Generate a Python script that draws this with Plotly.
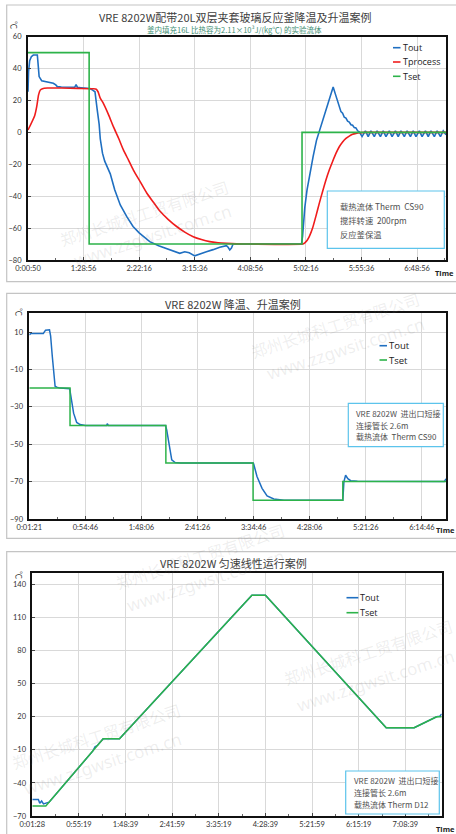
import plotly.graph_objects as go

W, H = 456, 834

# ---------------- DATA ----------------
# x positions are in "tick units" (0 = first time label, 1 = second label ...)
# Panel 1: VRE 8202W + 20L jacketed glass reactor
p1_ticktext = ["0:00:50", "1:28:56", "2:22:16", "3:15:36", "4:08:56", "5:02:16", "5:55:36", "6:48:56"]
p1_yticks = [-80, -60, -40, -20, 0, 20, 40, 60]
p1_tout_x = [0, 0.01, 0.03, 0.06, 0.095, 0.168, 0.186, 0.20, 0.246, 0.35, 0.455, 0.50, 0.527, 0.60, 0.70,
             0.84, 0.865, 0.89, 0.95, 1.05, 1.115, 1.163, 1.205, 1.246, 1.28, 1.30, 1.34, 1.38, 1.48, 1.56,
             1.66, 1.78, 1.89, 2.0, 2.19, 2.35, 2.49, 2.62, 2.73, 2.82, 2.9, 3.0, 3.1, 3.21, 3.33, 3.45,
             3.57, 3.60, 3.63, 3.66, 3.69, 3.75, 4.92, 4.94, 4.98, 5.02, 5.07, 5.13, 5.19, 5.25, 5.35,
             5.45, 5.49, 5.53, 5.57, 5.60, 5.63, 5.66, 5.69, 5.72, 5.75, 5.78, 5.81, 5.84, 5.87, 5.90,
             5.93, 5.96,
             6.01, 6.07, 6.12, 6.17, 6.23, 6.28, 6.34, 6.39, 6.44, 6.50, 6.55, 6.61, 6.66, 6.71, 6.77,
             6.82, 6.88, 6.93, 6.98, 7.04, 7.09, 7.15, 7.20, 7.25, 7.31, 7.36, 7.42, 7.47, 7.52]
p1_tout = [25.5, 38, 45, 47.5, 48.5, 48.5, 41, 35, 32.4, 31.5, 30.8, 29.8, 28.7, 28.5, 28.4,
           28.3, 30, 28.2, 28, 27.8, 27.5, 26.5, 25.5, 14, 5, -4, -13, -18, -26, -36,
           -45.5, -53, -59, -63, -68.5, -71, -72.7, -74.5, -75.8, -74.8, -75.5, -77.4, -76, -74.8, -73.5, -72,
           -71, -72, -73.7, -72.5, -70, -70, -70, -65, -47, -36, -26, -15, -5, 2, 13,
           24, 28.5, 24, 20, 17, 13, 12, 9.5, 9, 7, 6.5, 4.8, 4.5, 3, 2.8,
           1, 0.3,
           -2.6, 1.0, -2.6, 1.0, -2.6, 1.0, -2.6, 1.0, -2.6, 1.0, -2.6, 1.0, -2.6, 1.0, -2.6,
           1.0, -2.6, 1.0, -2.6, 1.0, -2.6, 1.0, -2.6, 1.0, -2.6, 1.0, -2.6, 1.0, -1.5]
p1_tproc_x = [0, 0.12, 0.156, 0.19, 0.22, 0.26, 0.35, 0.6, 0.9, 1.18, 1.22, 1.26, 1.30, 1.356, 1.45,
              1.536, 1.63, 1.716, 1.81, 1.896, 2.02, 2.136, 2.26, 2.376, 2.52, 2.674, 2.82, 2.973,
              3.12, 3.27, 3.42, 3.57, 3.75, 4.0, 4.94, 4.98, 5.02, 5.06, 5.12, 5.18, 5.24, 5.30, 5.36,
              5.42, 5.48, 5.54, 5.60, 5.66, 5.72, 5.78, 5.84, 5.90, 5.96, 6.05, 7.52]
p1_tproc = [1.5, 10.5, 16, 23.5, 26.5, 27.4, 27.8, 27.8, 27.6, 27.4, 27.2, 25.5, 21.5, 18.2, 11,
            3.6, -3.7, -11, -17.5, -23.6, -31, -38, -44, -49.5, -54.5, -59, -62.5, -65.4,
            -67.2, -68.5, -69.2, -69.6, -69.9, -70, -70, -69.2, -67.8, -65.4, -60, -52.5, -44.5, -37, -29.8,
            -23.6, -18.2, -13.2, -9, -6, -3.8, -2.3, -1.2, -0.6, -0.2, 0, 0]
p1_tset_x = [0, 1.10, 1.10, 4.93, 4.93, 7.52]
p1_tset = [50, 50, -70, -70, 0, 0]

# Panel 2: cooling / heating steps
p2_ticktext = ["0:01:21", "0:54:46", "1:48:06", "2:41:26", "3:34:46", "4:28:06", "5:21:26", "6:14:46"]
p2_yticks = [-90, -70, -50, -30, -10, 10]
p2_tout_x = [0, 0.03, 0.25, 0.29, 0.36, 0.38, 0.41, 0.44, 0.46, 0.49, 0.55, 0.72, 0.74, 0.79, 0.845,
             0.905, 1.0, 1.38, 1.39, 1.41, 2.43, 2.45, 2.50, 2.54, 2.6, 2.7, 3.99, 4.0, 4.06, 4.15,
             4.24, 4.36, 4.54, 5.59, 5.61, 5.64, 5.68, 5.73, 5.85, 7.40, 7.43]
p2_tout = [8.5, 9.2, 9.2, 11, 11.2, 8, -3, -15, -19, -19.5, -20, -20.3, -24.5, -33.4, -38.4,
           -39.5, -40, -40, -39, -40, -40, -42.3, -51.3, -58.4, -59.8, -60, -60, -60.5, -67.3, -73.6,
           -77.7, -79.3, -80, -80, -70, -66.6, -68.4, -69.5, -69.8, -70, -68.5]
p2_tset_x = [0, 0.726, 0.726, 2.435, 2.435, 3.99, 3.99, 5.59, 5.59, 7.43]
p2_tset = [-20, -20, -40, -40, -60, -60, -80, -80, -70, -70]

# Panel 3: constant-rate linear run
p3_ticktext = ["0:01:28", "0:55:19", "1:48:39", "2:41:59", "3:35:19", "4:28:39", "5:21:59", "6:15:19", "7:08:39"]
p3_yticks = [-70, -40, -10, 20, 50, 80, 110, 140]
p3_tout_x = [0, 0.13, 0.16, 0.20, 0.24, 0.29, 0.36, 1.30, 1.346, 1.40, 1.52, 1.87, 4.71, 5.0,
             7.59, 8.19, 8.67, 8.74, 8.78]
p3_tout = [-55, -55, -58.5, -56.4, -59, -58.5, -57.5, -11, -7.3, -5.9, 0, 0, 130, 130,
           10, 10, 20, 20.5, 22.5]
p3_tset_x = [0, 0.29, 1.52, 1.87, 4.71, 5.0, 7.59, 8.19, 8.67, 8.78]
p3_tset = [-61, -61, 0, 0, 130, 130, 10, 10, 20, 20]

# ---------------- STYLE ----------------
BLUE, RED, GREEN = "#1f6fc1", "#f01c1c", "#2db34a"
NUM = "Lato, 'Noto Sans CJK SC', sans-serif"
CJK = "'Noto Sans CJK SC', sans-serif"
GRID = "#d9d9d9"


def X(px):
    return px / W


def Y(py):
    return 1 - py / H


fig = go.Figure()

fig.add_trace(go.Scatter(x=p1_tout_x, y=p1_tout, name="Tout", mode="lines",
                         line=dict(color=BLUE, width=1.6), xaxis="x", yaxis="y", showlegend=False))
fig.add_trace(go.Scatter(x=p1_tproc_x, y=p1_tproc, name="Tprocess", mode="lines",
                         line=dict(color=RED, width=1.6, shape="spline", smoothing=0.5),
                         xaxis="x", yaxis="y", showlegend=False))
fig.add_trace(go.Scatter(x=p1_tset_x, y=p1_tset, name="Tset", mode="lines",
                         line=dict(color=GREEN, width=1.6), xaxis="x", yaxis="y", showlegend=False))

fig.add_trace(go.Scatter(x=p2_tout_x, y=p2_tout, name="Tout", mode="lines",
                         line=dict(color=BLUE, width=1.5), xaxis="x2", yaxis="y2", showlegend=False))
fig.add_trace(go.Scatter(x=p2_tset_x, y=p2_tset, name="Tset", mode="lines",
                         line=dict(color=GREEN, width=1.5), xaxis="x2", yaxis="y2", showlegend=False))

fig.add_trace(go.Scatter(x=p3_tout_x, y=p3_tout, name="Tout", mode="lines",
                         line=dict(color=BLUE, width=1.5), xaxis="x3", yaxis="y3", showlegend=False))
fig.add_trace(go.Scatter(x=p3_tset_x, y=p3_tset, name="Tset", mode="lines",
                         line=dict(color=GREEN, width=1.5), xaxis="x3", yaxis="y3", showlegend=False))


def xaxis(dom, rng, ticktext, lw, anchor):
    return dict(domain=dom, range=rng, anchor=anchor, tickmode="array",
                tickvals=list(range(len(ticktext))), ticktext=ticktext,
                showgrid=True, gridcolor=GRID, gridwidth=0.8, zeroline=False,
                showline=True, mirror=True, linecolor="#111", linewidth=lw,
                ticks="inside", ticklen=3, tickcolor="#444", automargin=False,
                minor=dict(ticks="inside", ticklen=2.5, tickcolor="#666", tick0=0.5, dtick=1, showgrid=False),
                tickfont=dict(family=NUM, size=7.5, color="#333"), fixedrange=True)


def yaxis(dom, rng, tickvals, lw, anchor):
    return dict(domain=dom, range=rng, anchor=anchor, tickmode="array", tickvals=tickvals,
                showgrid=True, gridcolor=GRID, gridwidth=0.8, zeroline=False,
                showline=True, mirror=True, linecolor="#111", linewidth=lw, automargin=False,
                ticks="inside", ticklen=3, tickcolor="#444", ticklabelstandoff=3,
                tickfont=dict(family=NUM, size=7.5, color="#333"), fixedrange=True)


fig.update_layout(
    width=W, height=H, margin=dict(l=0, r=0, t=0, b=0, pad=0, autoexpand=False),
    paper_bgcolor="white", plot_bgcolor="white", showlegend=False,
    xaxis=xaxis([X(28), X(446)], [0, 7.52], p1_ticktext, 2, "y"),
    yaxis=yaxis([Y(260), Y(36.7)], [-80, 60], p1_yticks, 2, "x"),
    xaxis2=xaxis([X(29.3), X(446)], [0, 7.43], p2_ticktext, 1.5, "y2"),
    yaxis2=yaxis([Y(519), Y(313.3)], [-90, 20], p2_yticks, 1.5, "x2"),
    xaxis3=xaxis([X(32.3), X(441.7)], [0, 8.78], p3_ticktext, 1.5, "y3"),
    yaxis3=yaxis([Y(816), Y(573.3)], [-70, 150], p3_yticks, 1.5, "x3"),
)

shapes = []
annots = []


def ann(text, px, py, size, color="#404040", xanchor="center", family=CJK, angle=0):
    annots.append(dict(text=text, x=X(px), y=Y(py), xref="paper", yref="paper", showarrow=False,
                       xanchor=xanchor, yanchor="middle", textangle=angle,
                       font=dict(family=family, size=size, color=color)))


def rect(x0, y0, x1, y1, color, width, fill=None, layer="above"):
    shapes.append(dict(type="rect", xref="paper", yref="paper", x0=X(x0), x1=X(x1), y0=Y(y0), y1=Y(y1),
                       line=dict(color=color, width=width), fillcolor=fill, layer=layer))


def hline(x0, x1, py, color, width):
    shapes.append(dict(type="line", xref="paper", yref="paper", x0=X(x0), x1=X(x1), y0=Y(py), y1=Y(py),
                       line=dict(color=color, width=width)))


# outer chart frames
rect(6.7, 5, 470, 281.7, "#c4c4c4", 1.2, layer="below")
rect(6.7, 293.3, 470, 538.3, "#c4c4c4", 1.2, layer="below")
rect(6.7, 551.7, 470, 860, "#c4c4c4", 1.2, layer="below")

# watermarks
WM = "rgba(120,120,120,0.13)"
for cx, cy in [(144, 213), (335, 325), (200, 556), (368, 652), (96, 736)]:
    ann("郑州长城科工贸有限公司", cx, cy, 16, WM, angle=-18)
for cx, cy in [(152, 235), (345, 348), (205, 580), (375, 680), (102, 763)]:
    ann("www.zzgwsit.com.cn", cx, cy, 17, WM, family="'Noto Sans', sans-serif", angle=-18)

# titles
ann("VRE 8202W配带20L双层夹套玻璃反应釜降温及升温案例", 235, 17, 11)
ann("釜内填充16L 比热容为2.11×10³J/(kg℃) 的实验流体", 234, 29.5, 7.5, "#3f8f74")
ann("VRE 8202W 降温、升温案例", 233, 304.3, 11)
ann("VRE 8202W 匀速线性运行案例", 233, 562.7, 11)

# axis titles
for px, py in [(15, 25), (19.5, 311.5), (20, 575)]:
    ann("℃", px, py, 8, "#333", angle=90)
for px, py in [(444, 273.5), (445, 529.5), (445, 829)]:
    ann("<b>Time</b>", px, py, 7.5, "#222", family="'Open Sans', sans-serif")

# legends (short key line + label)
for name, color, py in [("Tout", BLUE, 47.7), ("Tprocess", RED, 62), ("Tset", GREEN, 76.3)]:
    hline(393, 400.5, py, color, 1.6)
    ann(name, 401, py, 9, "#222", xanchor="left", family="'Open Sans', sans-serif")
for name, color, py in [("Tout", BLUE, 345.7), ("Tset", GREEN, 360)]:
    hline(379.5, 387, py, color, 1.6)
    ann(name, 387, py, 9.5, "#222", xanchor="left", family="'Open Sans', sans-serif")
for name, color, py in [("Tout", BLUE, 597.7), ("Tset", GREEN, 612.7)]:
    hline(346.5, 358.3, py, color, 1.6)
    ann(name, 358.3, py, 9, "#222", xanchor="left", family="'Open Sans', sans-serif")

# note boxes
BOX = "#5cc4ec"
rect(327.3, 191, 444.3, 248.3, BOX, 1.2, fill="white")
for txt, py in [("载热流体 Therm  CS90", 205.7), ("搅拌转速  200rpm", 220), ("反应釜保温", 233.7)]:
    ann(txt, 337.7, py, 8.3, "#505050", xanchor="left")
rect(348.3, 403.3, 443.3, 446.7, BOX, 1.2, fill="white")
for txt, py in [("VRE 8202W  进出口短接", 413.3), ("连接管长 2.6m", 425), ("载热流体  Therm CS90", 436.7)]:
    ann(txt, 354.3, py, 8, "#505050", xanchor="left")
rect(345.7, 771, 439.3, 814, BOX, 1.2, fill="white")
for txt, py in [("VRE 8202W  进出口短接", 780.7), ("连接管长 2.6m", 792.3), ("载热流体 Therm D12", 804.3)]:
    ann(txt, 351.7, py, 8, "#505050", xanchor="left")

fig.update_layout(shapes=shapes, annotations=annots)
fig.write_html("out.html", config={"displayModeBar": False},
               post_script="document.body.style.margin='0';document.body.style.overflow='hidden';")
